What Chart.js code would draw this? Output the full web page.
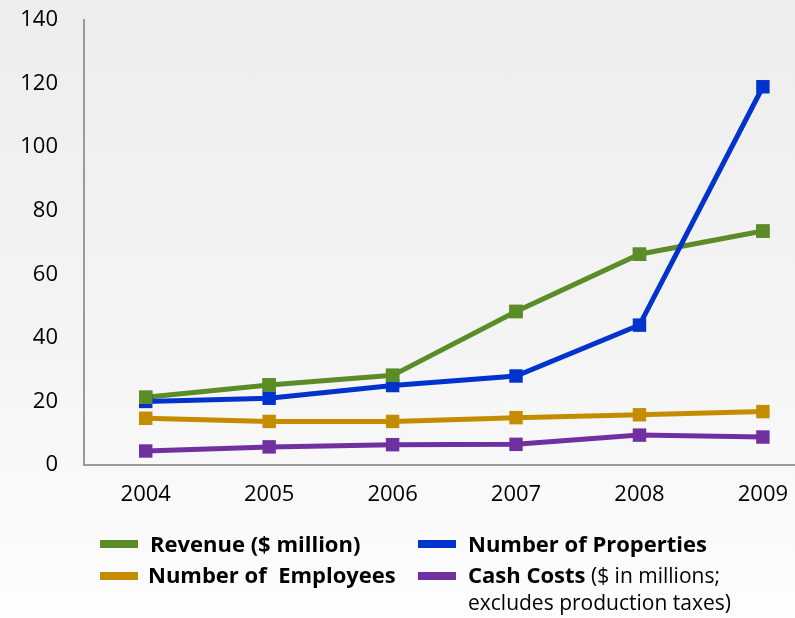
<!DOCTYPE html>
<html>
<head>
<meta charset="utf-8">
<script src="https://cdn.jsdelivr.net/npm/chart.js@4/dist/chart.umd.min.js"></script>
<style>
  html, body { margin: 0; padding: 0; }
  body {
    width: 795px; height: 618px; overflow: hidden; position: relative;
    background: linear-gradient(#ededed, #f4f4f4 55%, #fdfdfd);
    font-family: "Open Sans", "Noto Sans", sans-serif; color: #000;
  }
  #wrap { position: absolute; left: 0; top: 0; width: 795px; height: 618px; }
  .key { position: absolute; font-size: 21px; line-height: 27px; white-space: nowrap; }
  .key b { font-weight: 700; font-size: 22px; }
  .swatch { position: absolute; width: 38px; height: 8px; }
</style>
</head>
<body>
<div id="wrap"><canvas id="growthChart"></canvas></div>

<div class="swatch" style="left:100px;top:540px;background:#5b8c27"></div>
<div class="key" style="left:150px;top:530px"><b>Revenue ($ million)</b></div>
<div class="swatch" style="left:100px;top:572px;background:#c48d00"></div>
<div class="key" style="left:148px;top:561px"><b>Number of&nbsp; Employees</b></div>
<div class="swatch" style="left:418px;top:540px;background:#0033cc"></div>
<div class="key" style="left:468px;top:530px"><b>Number of Properties</b></div>
<div class="swatch" style="left:418px;top:572px;background:#7030a0"></div>
<div class="key" style="left:468px;top:561px"><b>Cash Costs</b> ($ in millions;<br>excludes production taxes)</div>

<script>
// ---------- data ----------
const years = [2004, 2005, 2006, 2007, 2008, 2009];
const revenue = [21.3, 25.2, 28.2, 48.3, 66.3, 73.6];
const properties = [20, 21, 25, 28, 44, 119];
const employees = [14.7, 13.7, 13.7, 14.9, 15.8, 16.8];
const cashCosts = [4.4, 5.7, 6.4, 6.5, 9.4, 8.8];
const yTicks = [0, 20, 40, 60, 80, 100, 120, 140];

const toPoints = vals => vals.map((v, i) => ({ x: years[i], y: v }));

function series(label, vals, color) {
    return {
        label: label,
        data: toPoints(vals),
        borderColor: color,
        backgroundColor: color,
        borderWidth: 5,
        pointStyle: "rect",
        pointRadius: 9.5,
        pointHoverRadius: 9.5,
        pointBorderWidth: 0,
        tension: 0,
        clip: false
    };
}

const axisGray = "#9a9a9a";
const tickFont = { family: "'Open Sans', 'Noto Sans', sans-serif", size: 22 };

// revenue squares sit above the blue line, its line sits below
const revenueMarkers = Object.assign(series("Revenue markers", revenue, "#5b8c27"), { showLine: false });

new Chart(document.getElementById("growthChart"), {
    type: "line",
    data: {
        // first dataset is painted last (on top)
        datasets: [
            revenueMarkers,
            series("Cash Costs", cashCosts, "#7030a0"),
            series("Number of Employees", employees, "#c48d00"),
            series("Number of Properties", properties, "#0033cc"),
            series("Revenue ($ million)", revenue, "#5b8c27")
        ]
    },
    options: {
        responsive: true,
        maintainAspectRatio: false,
        animation: false,
        layout: { autoPadding: false, padding: { top: 20, right: 0, bottom: 103, left: 0 } },
        plugins: { legend: { display: false }, tooltip: { enabled: false } },
        scales: {
            x: {
                type: "linear",
                min: 2003.5,
                max: 2009.26,
                afterBuildTicks: s => { s.ticks = years.map(v => ({ value: v })); },
                afterFit: s => { s.height = 50; s.paddingLeft = 0; s.paddingRight = 0; },
                grid: { display: false, drawTicks: false },
                border: { display: true, color: axisGray, width: 2 },
                ticks: { color: "#000", font: tickFont, padding: 17, maxRotation: 0,
                         callback: v => String(v) }
            },
            y: {
                min: 0,
                max: 140,
                afterBuildTicks: s => { s.ticks = yTicks.map(v => ({ value: v })); },
                afterFit: s => { s.width = 84; s.paddingTop = 0; s.paddingBottom = 0; },
                grid: { display: false, drawTicks: false },
                border: { display: true, color: axisGray, width: 2 },
                ticks: { color: "#000", font: tickFont, padding: 26 }
            }
        }
    }
});
</script>
</body>
</html>
